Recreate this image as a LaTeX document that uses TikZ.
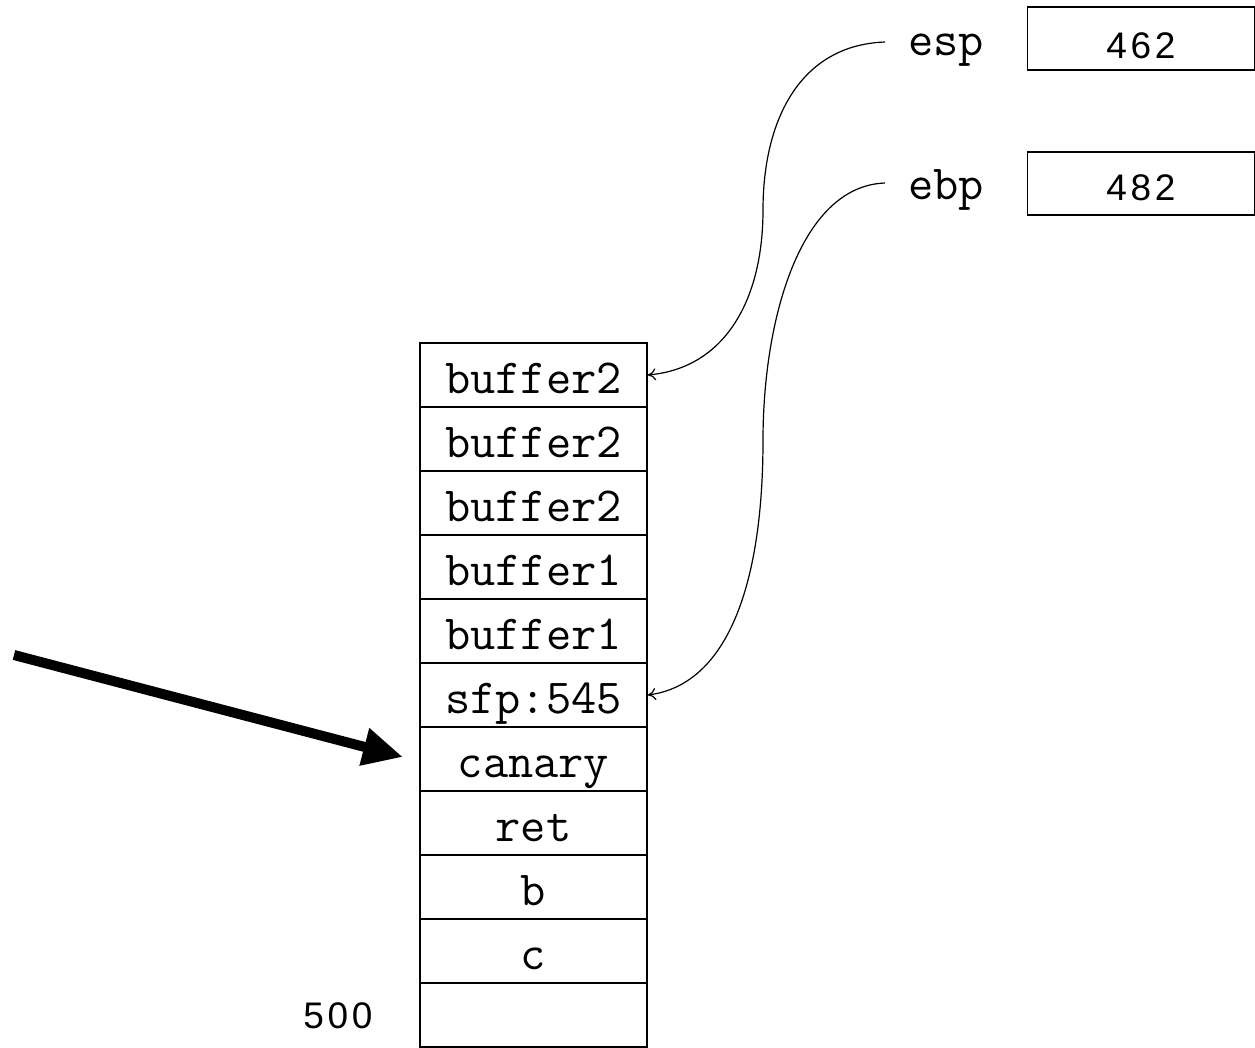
\documentclass[tikz,border=0pt]{standalone}
\usepackage{fontspec}
\newfontfamily\numfont[LetterSpace=10]{Liberation Sans}
\usetikzlibrary{arrows.meta}
\tikzset{
  cell/.style={draw, line width=1.6pt, fill=white, minimum width=227pt, inner sep=0pt,
    text height=50pt, text depth=14pt, font=\fontsize{49}{58}\selectfont\ttfamily},
  reg/.style={inner sep=0pt, font=\fontsize{49}{58}\selectfont\ttfamily, anchor=base},
  valbox/.style={draw, line width=1.3pt, minimum width=227pt, minimum height=63pt, inner sep=0pt},
  num/.style={inner sep=0pt, anchor=base, font=\fontsize{37}{44}\selectfont\numfont},
  ptr/.style={line width=1.2pt, -{To[length=8pt,width=12pt]}},
  big/.style={line width=10pt, -{Triangle[length=40pt,width=36pt]}}
}
\begin{document}
\begin{tikzpicture}[x=1pt,y=-1pt]
\useasboundingbox (0,0) rectangle (1255,1047);
% stack
\node[cell] (r1) at (533.5,375) {buffer2};
\node[cell] (r2) at (533.5,439) {buffer2};
\node[cell] (r3) at (533.5,503) {buffer2};
\node[cell] (r4) at (533.5,567) {buffer1};
\node[cell] (r5) at (533.5,631) {buffer1};
\node[cell] (r6) at (533.5,695) {sfp:545};
\node[cell] (r7) at (533.5,759) {canary};
\node[cell] (r8) at (533.5,823) {ret};
\node[cell] (r9) at (533.5,887) {b};
\node[cell] (r10) at (533.5,951) {c};
\node[cell] (r11) at (533.5,1014.8) {};
\node[num] (addr) at (338,1028) {500};
% registers
\node[reg] (esp) at (946,55) {esp};
\node[reg] (ebp) at (946,199) {ebp};
\node[valbox] (vesp) at (1141,38.5) {};
\node[valbox] (vebp) at (1141,183.5) {};
\node[num] (n1) at (1141,58) {462};
\node[num] (n2) at (1141,200) {482};
\coordinate (espout) at (885,42);
\coordinate (ebpout) at (885,183);
\draw[ptr] (espout) .. controls (800,45) and (763,120) .. (763,210)
  .. controls (763,300) and (725,368) .. (r1.east);
\draw[ptr] (ebpout) .. controls (800,186) and (763,320) .. (763,440)
  .. controls (763,590) and (725,685) .. (r6.east);
% big arrow
\coordinate (bstart) at (14,655);
\coordinate (bend) at (403,757);
\draw[big] (bstart) -- (bend);
\end{tikzpicture}
\end{document}
